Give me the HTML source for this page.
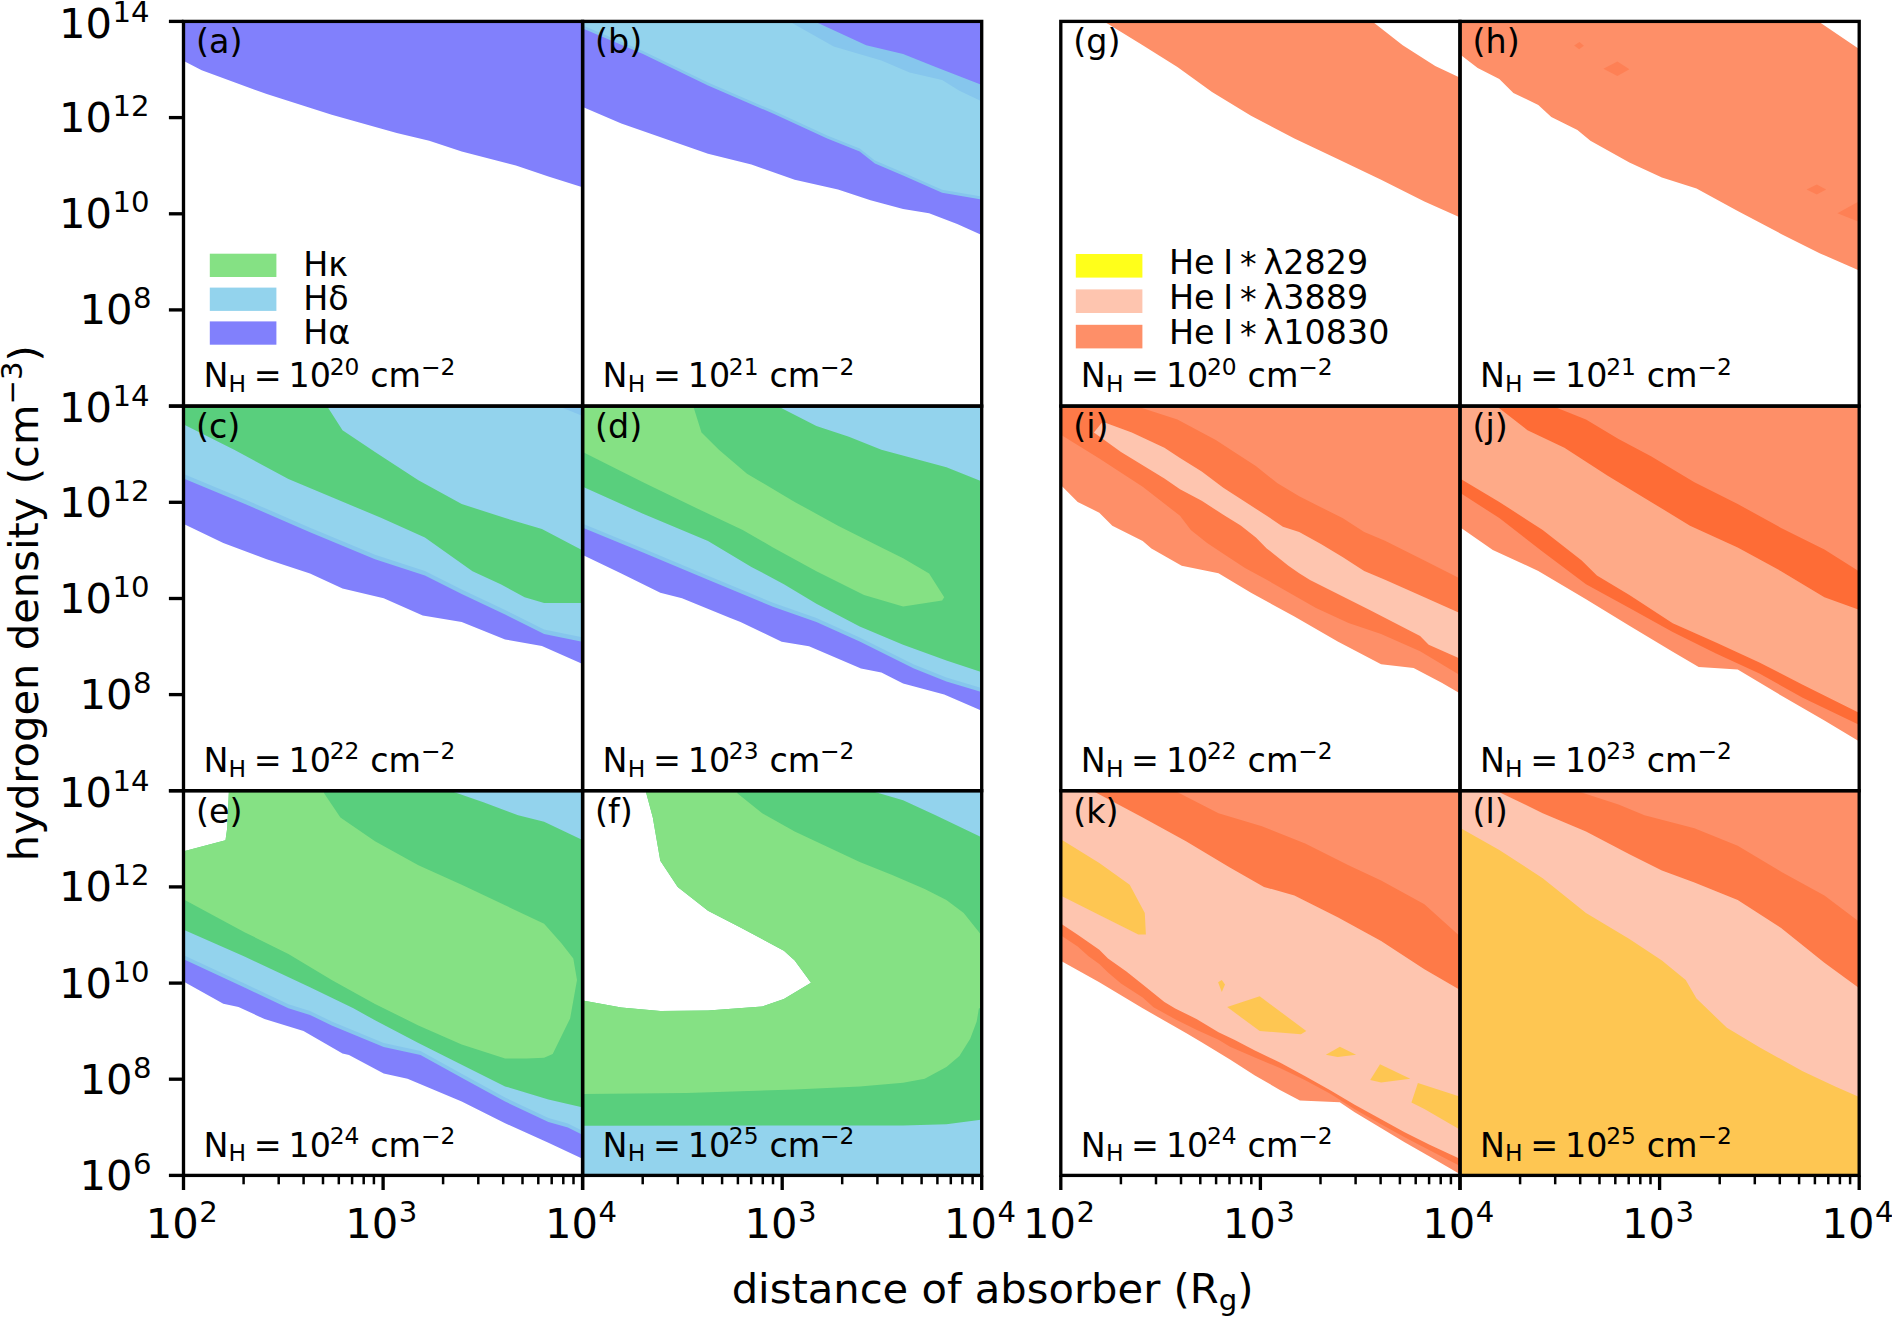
<!DOCTYPE html>
<html><head><meta charset="utf-8"><title>figure</title>
<style>html,body{margin:0;padding:0;background:#fff}svg{display:block}text{font-family:"DejaVu Sans","Liberation Sans",sans-serif;fill:#000}</style></head><body>
<svg width="1892" height="1317" viewBox="0 0 1892 1317">
<rect width="1892" height="1317" fill="#fff"/>
<defs>
<clipPath id="ca"><rect x="183.5" y="21.4" width="399.1" height="384.7"/></clipPath>
<clipPath id="cb"><rect x="582.6" y="21.4" width="399.1" height="384.7"/></clipPath>
<clipPath id="cc"><rect x="183.5" y="406.1" width="399.1" height="384.6"/></clipPath>
<clipPath id="cd"><rect x="582.6" y="406.1" width="399.1" height="384.6"/></clipPath>
<clipPath id="ce"><rect x="183.5" y="790.7" width="399.1" height="384.7"/></clipPath>
<clipPath id="cf"><rect x="582.6" y="790.7" width="399.1" height="384.7"/></clipPath>
<clipPath id="cg"><rect x="1060.8" y="21.4" width="399.2" height="384.7"/></clipPath>
<clipPath id="ch"><rect x="1460.0" y="21.4" width="399.2" height="384.7"/></clipPath>
<clipPath id="ci"><rect x="1060.8" y="406.1" width="399.2" height="384.6"/></clipPath>
<clipPath id="cj"><rect x="1460.0" y="406.1" width="399.2" height="384.6"/></clipPath>
<clipPath id="ck"><rect x="1060.8" y="790.7" width="399.2" height="384.7"/></clipPath>
<clipPath id="cl"><rect x="1460.0" y="790.7" width="399.2" height="384.7"/></clipPath>
</defs>
<g clip-path="url(#ca)">
<polygon fill="#8180fc" points="172.4,55.2 184.8,61.6 201.7,70.3 266.7,94.1 331.7,114.7 396.7,133.1 429.2,140.7 461.7,151.5 515.9,165.6 548.4,176.4 580.9,186.8 594.2,191.1 612.6,-8.6 153.5,-8.6"/>
</g>
<g clip-path="url(#cb)">
<polygon fill="#8180fc" points="569.9,101.6 582.8,107.1 621.3,123.4 708.0,153.7 751.4,164.5 794.7,179.7 838.0,189.4 870.5,200.3 903.1,209.0 929.1,213.3 957.2,224.1 980.0,234.3 992.8,240.0 1011.7,-8.6 552.6,-8.6"/>
<polygon fill="#86c6ed" points="552.6,-8.6 805.8,17.3 818.5,23.2 866.2,45.3 903.1,54.0 935.6,67.0 980.0,84.3 993.0,89.4 993.8,201.6 980.0,199.2 942.1,192.7 903.1,175.4 874.9,163.4 859.7,151.5 827.2,138.5 773.0,113.6 708.0,85.4 643.0,54.0 582.8,28.4 569.9,22.9"/>
<polygon fill="#93d3ed" points="552.6,-8.6 780.3,16.3 792.5,23.2 833.7,46.4 881.4,60.5 909.6,72.4 942.1,80.0 959.4,90.8 980.0,100.6 992.6,106.6 993.8,198.6 980.0,196.2 942.1,189.7 903.1,172.4 874.9,160.4 859.7,148.5 827.2,135.5 773.0,110.6 708.0,82.4 643.0,51.0 582.8,25.4 569.9,19.9"/>
</g>
<g clip-path="url(#cc)">
<polygon fill="#8180fc" points="172.2,518.6 184.8,524.6 223.3,543.0 266.7,559.3 310.0,573.4 342.5,588.5 383.7,598.3 422.7,615.6 461.7,622.1 505.1,639.5 541.9,646.0 580.9,663.3 593.7,669.0 612.6,376.1 153.5,376.1"/>
<polygon fill="#86c6ed" points="171.9,473.7 184.8,479.1 245.0,504.0 310.0,532.2 375.0,559.3 424.9,575.5 461.7,594.0 505.1,614.5 544.1,634.0 580.9,641.6 594.6,644.4 612.6,376.1 153.5,376.1"/>
<polygon fill="#93d3ed" points="171.9,469.2 184.8,474.6 245.0,499.5 310.0,527.7 375.0,554.8 424.9,571.0 461.7,589.5 505.1,610.0 544.1,629.5 580.9,637.1 594.6,639.9 612.6,376.1 153.5,376.1"/>
<polygon fill="#86c6ed" points="550.6,402.9 563.6,408.2 580.9,415.2 593.9,420.5 612.6,376.1 153.5,376.1"/>
<polygon fill="#59cf7d" points="153.5,376.1 320.9,396.4 328.4,408.2 342.5,430.3 375.0,452.0 418.4,480.2 461.7,504.0 505.1,518.1 541.9,528.9 580.9,549.5 593.3,556.0 594.9,603.1 580.9,603.1 544.1,603.1 524.6,597.2 500.7,584.2 472.5,571.2 424.9,537.6 381.5,518.1 353.4,506.2 288.4,479.1 234.2,449.8 184.8,424.9 172.3,418.6"/>
</g>
<g clip-path="url(#cd)">
<polygon fill="#8180fc" points="570.2,549.0 582.8,555.0 621.3,573.4 660.3,592.7 682.0,598.2 729.7,617.8 740.5,621.9 781.7,641.7 809.0,646.3 861.0,668.5 881.4,672.5 903.1,683.5 944.2,694.4 978.9,709.6 991.7,715.2 1011.7,376.1 552.6,376.1"/>
<polygon fill="#86c6ed" points="569.9,522.5 582.8,527.8 643.0,552.6 708.0,579.8 773.0,606.8 816.4,622.0 859.7,641.5 913.9,668.5 946.4,681.5 978.9,691.2 992.3,695.2 1011.7,376.1 552.6,376.1"/>
<polygon fill="#93d3ed" points="569.9,518.5 582.8,523.8 643.0,548.6 708.0,575.8 773.0,602.8 816.4,618.0 859.7,637.5 913.9,664.5 946.4,677.5 978.9,687.2 992.3,691.2 1011.7,376.1 552.6,376.1"/>
<polygon fill="#59cf7d" points="552.6,376.1 769.2,401.8 781.7,408.2 816.4,426.0 848.9,436.8 881.4,449.8 913.9,458.5 946.4,467.2 978.9,480.2 991.9,485.4 992.2,675.7 978.9,671.3 946.4,660.5 903.1,644.8 859.7,626.4 816.4,603.7 783.9,584.2 751.4,566.9 708.0,540.9 643.0,513.8 582.8,486.7 570.0,481.0"/>
<polygon fill="#85e184" points="560.0,380.0 690.0,380.0 693.9,408.2 701.5,432.5 718.9,449.8 747.0,473.7 794.7,501.9 838.0,525.7 881.4,547.4 903.1,558.2 929.1,573.4 944.2,597.2 942.1,600.4 903.1,606.5 864.0,595.0 816.4,571.2 773.0,547.4 742.7,530.0 697.2,508.4 643.0,482.3 582.8,452.0 560.0,440.5"/>
</g>
<g clip-path="url(#ce)">
<polygon fill="#8180fc" points="172.6,975.5 184.8,982.3 223.3,1003.8 238.5,1006.9 264.5,1019.1 303.5,1031.0 342.5,1053.5 349.0,1054.9 383.7,1073.4 407.5,1078.8 461.7,1101.5 505.1,1123.2 548.4,1142.7 580.9,1157.9 593.6,1163.8 612.6,760.7 153.5,760.7"/>
<polygon fill="#86c6ed" points="172.1,953.9 184.8,959.8 245.0,987.7 288.4,1008.2 310.0,1014.9 331.7,1025.5 383.7,1046.9 420.5,1054.9 461.7,1077.7 505.1,1101.5 548.4,1122.1 567.9,1127.5 580.9,1134.0 593.4,1140.3 612.6,760.7 153.5,760.7"/>
<polygon fill="#93d3ed" points="172.1,949.9 184.8,955.8 245.0,983.7 288.4,1004.2 310.0,1010.9 331.7,1021.5 383.7,1042.9 420.5,1050.9 461.7,1073.7 505.1,1097.5 548.4,1118.1 567.9,1123.5 580.9,1130.0 593.4,1136.3 612.6,760.7 153.5,760.7"/>
<polygon fill="#59cf7d" points="153.5,760.7 444.2,788.6 457.4,793.2 483.4,802.3 518.1,815.3 544.1,821.8 580.9,839.2 593.6,845.2 594.5,1110.2 580.9,1107.0 548.4,1099.4 505.1,1086.4 461.7,1064.7 418.4,1043.0 375.0,1020.3 353.4,1008.2 310.0,987.2 245.0,956.8 184.8,930.2 172.0,924.5"/>
<polygon fill="#fff" points="150.0,760.0 228.8,760.0 228.8,793.2 227.2,828.3 225.5,840.3 184.8,851.1 150.0,860.3"/>
<polygon fill="#85e184" points="228.8,770.0 324.1,770.0 324.1,793.2 340.4,817.5 375.0,841.3 418.4,865.2 461.7,884.7 505.1,905.3 544.1,923.7 561.4,943.2 573.3,958.4 577.0,980.0 570.1,1018.5 557.1,1045.0 552.7,1053.9 544.1,1057.8 526.7,1058.5 505.1,1058.5 461.7,1044.5 418.4,1025.5 375.0,1003.9 331.7,980.0 288.4,954.0 245.0,932.4 184.8,899.9 160.0,886.5 160.0,857.7 184.8,851.1 225.5,840.3 227.2,828.3 228.8,793.2"/>
</g>
<g clip-path="url(#cf)">
<polygon fill="#93d3ed" points="577.6,785.7 986.7,785.7 986.7,1180.4 577.6,1180.4"/>
<polygon fill="#59cf7d" points="552.6,760.7 865.8,789.3 879.2,793.2 903.1,800.2 935.6,815.3 978.9,835.9 991.5,841.9 992.8,1118.2 978.9,1120.0 946.4,1124.3 903.1,1125.4 794.7,1125.4 582.8,1125.8 568.8,1125.8"/>
<polygon fill="#fff" points="560.0,760.0 646.3,760.0 646.3,793.2 652.8,817.5 660.3,860.8 677.7,886.9 708.0,910.7 740.5,927.5 783.9,950.8 794.7,960.6 811.0,982.7 783.9,999.1 762.2,1006.6 708.0,1010.5 660.3,1010.9 621.3,1007.4 582.8,1000.5 560.0,996.4"/>
<polygon fill="#85e184" points="646.3,770.0 737.3,770.0 737.3,793.2 762.2,813.2 794.7,831.6 827.2,846.8 859.7,861.9 892.2,874.9 924.7,889.0 946.4,899.9 963.7,912.9 978.9,932.0 1000.0,960.0 1000.0,1000.0 978.9,1008.4 976.7,1021.4 970.2,1038.7 959.4,1056.0 946.4,1066.9 924.7,1078.8 903.1,1082.7 859.7,1086.4 794.7,1089.6 686.4,1092.9 582.8,1093.9 560.0,1094.0 560.0,996.4 582.8,1000.5 621.3,1007.4 660.3,1010.9 708.0,1010.5 762.2,1006.6 783.9,999.1 811.0,982.7 794.7,960.6 783.9,950.8 740.5,927.5 708.0,910.7 677.7,886.9 660.3,860.8 652.8,817.5 646.3,793.2"/>
</g>
<g clip-path="url(#cg)">
<polygon fill="#fe8f68" points="1363.6,14.5 1374.6,23.2 1402.7,45.3 1435.2,65.9 1458.0,76.8 1470.6,82.8 1470.8,222.2 1458.0,216.5 1424.4,201.4 1381.1,179.7 1337.7,159.1 1294.4,138.5 1251.0,115.8 1212.0,91.9 1177.4,67.0 1142.7,45.3 1106.9,23.2 1095.0,15.8"/>
</g>
<g clip-path="url(#ch)">
<polygon fill="#fe8f68" points="1430.0,-8.6 1809.5,15.3 1821.1,23.2 1856.9,47.5 1868.5,55.4 1869.7,275.2 1856.9,269.6 1820.1,253.4 1781.1,233.9 1737.7,211.1 1696.5,188.4 1661.9,177.5 1629.4,162.4 1590.4,140.7 1577.4,129.9 1551.3,116.9 1538.3,104.9 1513.4,93.0 1499.3,78.9 1477.7,68.1 1460.8,55.1 1449.7,46.6"/>
<polygon fill="#fe8055" points="1574.1,45.4 1579.5,42.1 1583.9,45.8 1579.1,49.2"/>
<polygon fill="#fe8055" points="1603.4,68.7 1617.4,61.6 1629.4,69.2 1617.4,76.1"/>
<polygon fill="#fe8055" points="1806.6,189.4 1816.8,184.5 1826.1,189.4 1816.8,194.4"/>
<polygon fill="#fe8055" points="1837.4,213.3 1870.0,195.1 1870.0,226.2"/>
</g>
<g clip-path="url(#ci)">
<polygon fill="#fe8f68" points="1052.6,476.8 1062.5,486.7 1077.7,501.9 1099.3,512.7 1112.3,525.7 1142.7,540.9 1151.4,548.4 1181.7,565.8 1218.5,573.3 1251.0,592.8 1294.4,616.6 1337.7,641.5 1381.1,664.2 1413.6,668.0 1441.7,682.8 1458.0,692.3 1470.1,699.3 1490.0,376.1 1030.8,376.1"/>
<polygon fill="#fe7a48" points="1030.8,376.1 1129.4,403.9 1142.7,408.2 1177.4,419.5 1215.8,440.0 1234.2,451.9 1255.8,466.0 1277.5,483.3 1299.2,496.3 1320.9,507.2 1342.5,518.0 1364.2,532.1 1385.0,540.8 1424.4,560.4 1458.0,577.5 1470.5,583.8 1470.0,681.2 1458.0,674.0 1420.1,651.2 1381.1,633.9 1348.5,623.0 1316.0,608.0 1266.7,579.8 1245.0,567.9 1223.3,553.8 1207.1,542.9 1190.8,529.9 1180.0,515.8 1142.7,486.7 1099.3,458.5 1062.5,435.8 1050.6,428.4"/>
<polygon fill="#fec5af" points="1102.6,421.7 1131.8,432.5 1164.4,447.7 1180.0,457.9 1201.7,471.4 1223.3,487.7 1245.0,501.8 1266.7,515.8 1282.9,526.7 1299.2,532.1 1320.9,544.0 1342.5,557.0 1364.2,571.1 1385.0,579.8 1424.4,597.2 1458.0,612.2 1470.8,617.9 1470.8,663.4 1458.0,657.7 1428.7,644.7 1420.1,636.0 1370.2,610.2 1326.9,588.5 1310.0,580.0 1299.2,573.3 1288.4,565.7 1277.5,557.0 1266.7,548.4 1255.9,537.5 1240.7,525.6 1223.3,514.8 1201.7,500.7 1180.0,489.3 1164.4,478.5 1121.0,452.0 1093.9,432.5"/>
</g>
<g clip-path="url(#cj)">
<polygon fill="#fe8f68" points="1449.3,519.8 1460.8,527.8 1492.8,549.9 1538.3,571.0 1586.0,599.2 1629.4,625.8 1672.7,651.8 1698.7,667.0 1737.7,669.6 1781.1,695.5 1824.4,720.5 1856.9,740.0 1868.9,747.2 1889.2,376.1 1430.0,376.1"/>
<polygon fill="#fe6c36" points="1430.0,376.1 1544.9,403.0 1557.9,408.2 1586.0,419.5 1618.5,439.0 1651.0,456.3 1694.4,482.3 1737.7,504.0 1781.1,527.9 1824.4,549.5 1856.9,570.0 1868.7,577.5 1869.5,729.8 1856.9,723.7 1802.7,697.7 1759.4,673.5 1716.0,653.4 1672.7,631.9 1629.4,608.0 1586.0,584.2 1542.7,551.7 1499.3,518.1 1460.8,493.2 1449.0,485.6"/>
<polygon fill="#feaa88" points="1430.0,376.1 1488.3,399.6 1499.3,408.2 1527.5,430.3 1564.4,447.7 1607.7,475.8 1651.0,501.9 1690.0,525.7 1737.7,547.4 1781.1,571.2 1824.4,597.2 1856.9,609.0 1870.1,613.8 1869.4,718.1 1856.9,711.8 1802.7,684.7 1759.4,662.6 1716.0,642.5 1672.7,623.2 1629.4,595.0 1596.9,575.5 1581.7,560.4 1542.7,530.0 1499.3,501.9 1460.8,479.1 1448.8,472.0"/>
</g>
<g clip-path="url(#ck)">
<polygon fill="#fe8f68" points="1050.3,954.9 1062.5,961.7 1099.3,982.3 1142.7,1008.3 1186.0,1033.0 1201.2,1042.1 1230.0,1059.5 1254.9,1075.5 1279.9,1089.9 1299.9,1100.5 1339.8,1102.3 1354.7,1112.3 1379.7,1127.3 1404.6,1142.2 1429.6,1156.6 1457.6,1172.8 1469.7,1179.8 1490.0,760.7 1030.8,760.7"/>
<polygon fill="#fe7a48" points="1030.8,760.7 1167.0,786.8 1179.5,793.2 1218.5,813.2 1261.9,826.2 1305.2,843.5 1348.5,865.2 1381.1,880.4 1424.4,904.2 1458.0,934.6 1468.4,944.0 1470.1,1171.1 1457.6,1164.7 1429.6,1150.3 1404.6,1137.3 1379.7,1123.5 1354.7,1109.2 1329.8,1093.6 1304.8,1079.9 1279.9,1068.0 1254.9,1057.4 1230.0,1046.8 1218.5,1039.8 1196.9,1030.0 1175.2,1019.2 1153.5,1007.3 1142.7,997.5 1121.0,983.4 1108.0,972.6 1099.3,963.9 1088.5,956.3 1077.7,946.6 1063.0,936.8 1051.4,929.0"/>
<polygon fill="#fec5af" points="1030.8,760.7 1084.9,786.6 1097.2,793.2 1142.7,817.5 1186.0,841.3 1229.4,867.3 1264.0,886.9 1294.4,895.5 1337.7,917.2 1381.1,941.0 1424.4,969.2 1458.0,988.7 1470.1,995.7 1470.3,1163.7 1457.6,1157.8 1429.6,1144.7 1404.6,1132.3 1379.7,1118.5 1354.7,1104.8 1329.8,1089.9 1304.8,1076.1 1279.9,1062.4 1254.9,1050.6 1234.8,1040.0 1218.5,1032.2 1196.9,1019.2 1175.2,1008.4 1164.4,1001.9 1142.7,984.5 1126.4,971.5 1108.0,958.5 1099.3,949.8 1077.7,934.7 1063.0,924.9 1051.4,917.1"/>
<polygon fill="#fec652" points="1040.0,826.4 1062.5,840.3 1099.3,863.0 1129.7,884.7 1144.8,912.9 1145.9,934.5 1138.3,934.5 1099.3,915.0 1062.5,896.6 1040.0,885.4"/>
<polygon fill="#fec652" points="1218.1,982.2 1221.8,980.0 1225.0,984.4 1221.8,992.0"/>
<polygon fill="#fec652" points="1227.2,1007.1 1259.7,996.3 1306.3,1031.0 1300.9,1034.2 1259.7,1031.0"/>
<polygon fill="#fec652" points="1325.8,1054.8 1339.9,1046.8 1356.1,1054.8 1337.7,1057.0"/>
<polygon fill="#fec652" points="1370.2,1079.9 1380.0,1064.3 1410.3,1078.8 1381.1,1082.5"/>
<polygon fill="#fec652" points="1411.4,1102.6 1417.9,1083.1 1458.0,1096.1 1480.0,1103.2 1480.0,1141.4 1458.0,1128.6 1424.4,1109.1"/>
</g>
<g clip-path="url(#cl)">
<polygon fill="#fe8f68" points="1455.0,785.7 1864.2,785.7 1864.2,1180.4 1455.0,1180.4"/>
<polygon fill="#fe7a48" points="1430.0,760.7 1570.6,788.9 1583.9,793.2 1618.5,804.5 1644.5,815.3 1694.4,828.3 1737.7,845.7 1781.1,871.7 1824.4,895.5 1856.9,920.0 1868.1,928.4 1889.2,1205.4 1430.0,1205.4"/>
<polygon fill="#fec5af" points="1430.0,760.7 1488.9,787.1 1501.5,793.2 1542.7,813.2 1586.0,831.6 1629.4,854.3 1661.9,870.6 1694.4,882.5 1737.7,899.9 1781.1,928.0 1824.4,962.7 1856.9,986.6 1868.2,994.9 1889.2,1205.4 1430.0,1205.4"/>
<polygon fill="#fec652" points="1430.0,760.7 1448.6,821.4 1460.8,828.3 1499.3,850.0 1542.7,878.2 1586.0,912.9 1629.4,939.0 1661.9,960.6 1685.7,980.1 1696.5,998.6 1726.9,1027.8 1759.4,1047.3 1802.7,1071.2 1835.2,1086.4 1856.9,1096.1 1869.7,1101.8 1889.2,1205.4 1430.0,1205.4"/>
</g>
<g fill="none" stroke="#000" stroke-width="3.33" stroke-linecap="square">
<rect x="183.5" y="21.4" width="399.1" height="384.7"/>
<rect x="582.6" y="21.4" width="399.1" height="384.7"/>
<rect x="183.5" y="406.1" width="399.1" height="384.6"/>
<rect x="582.6" y="406.1" width="399.1" height="384.6"/>
<rect x="183.5" y="790.7" width="399.1" height="384.7"/>
<rect x="582.6" y="790.7" width="399.1" height="384.7"/>
<rect x="1060.8" y="21.4" width="399.2" height="384.7"/>
<rect x="1460.0" y="21.4" width="399.2" height="384.7"/>
<rect x="1060.8" y="406.1" width="399.2" height="384.6"/>
<rect x="1460.0" y="406.1" width="399.2" height="384.6"/>
<rect x="1060.8" y="790.7" width="399.2" height="384.7"/>
<rect x="1460.0" y="790.7" width="399.2" height="384.7"/>
</g>
<g stroke="#000" stroke-width="3.33">
<line x1="168.9" y1="21.4" x2="183.5" y2="21.4"/>
<line x1="168.9" y1="117.6" x2="183.5" y2="117.6"/>
<line x1="168.9" y1="213.8" x2="183.5" y2="213.8"/>
<line x1="168.9" y1="309.9" x2="183.5" y2="309.9"/>
<line x1="168.9" y1="406.1" x2="183.5" y2="406.1"/>
<line x1="168.9" y1="406.1" x2="183.5" y2="406.1"/>
<line x1="168.9" y1="502.3" x2="183.5" y2="502.3"/>
<line x1="168.9" y1="598.5" x2="183.5" y2="598.5"/>
<line x1="168.9" y1="694.6" x2="183.5" y2="694.6"/>
<line x1="168.9" y1="790.8" x2="183.5" y2="790.8"/>
<line x1="168.9" y1="790.7" x2="183.5" y2="790.7"/>
<line x1="168.9" y1="886.9" x2="183.5" y2="886.9"/>
<line x1="168.9" y1="983.1" x2="183.5" y2="983.1"/>
<line x1="168.9" y1="1079.2" x2="183.5" y2="1079.2"/>
<line x1="168.9" y1="1175.4" x2="183.5" y2="1175.4"/>
<line x1="183.5" y1="1175.4" x2="183.5" y2="1190.0"/>
<line x1="383.1" y1="1175.4" x2="383.1" y2="1190.0"/>
<line x1="582.6" y1="1175.4" x2="582.6" y2="1190.0"/>
<line x1="582.6" y1="1175.4" x2="582.6" y2="1190.0"/>
<line x1="782.2" y1="1175.4" x2="782.2" y2="1190.0"/>
<line x1="981.7" y1="1175.4" x2="981.7" y2="1190.0"/>
<line x1="1060.8" y1="1175.4" x2="1060.8" y2="1190.0"/>
<line x1="1260.4" y1="1175.4" x2="1260.4" y2="1190.0"/>
<line x1="1460.0" y1="1175.4" x2="1460.0" y2="1190.0"/>
<line x1="1460.0" y1="1175.4" x2="1460.0" y2="1190.0"/>
<line x1="1659.6" y1="1175.4" x2="1659.6" y2="1190.0"/>
<line x1="1859.2" y1="1175.4" x2="1859.2" y2="1190.0"/>
</g>
<g stroke="#000" stroke-width="2.5">
<line x1="243.6" y1="1175.4" x2="243.6" y2="1184.3"/>
<line x1="278.7" y1="1175.4" x2="278.7" y2="1184.3"/>
<line x1="303.6" y1="1175.4" x2="303.6" y2="1184.3"/>
<line x1="323.0" y1="1175.4" x2="323.0" y2="1184.3"/>
<line x1="338.8" y1="1175.4" x2="338.8" y2="1184.3"/>
<line x1="352.1" y1="1175.4" x2="352.1" y2="1184.3"/>
<line x1="363.7" y1="1175.4" x2="363.7" y2="1184.3"/>
<line x1="373.9" y1="1175.4" x2="373.9" y2="1184.3"/>
<line x1="443.1" y1="1175.4" x2="443.1" y2="1184.3"/>
<line x1="478.3" y1="1175.4" x2="478.3" y2="1184.3"/>
<line x1="503.2" y1="1175.4" x2="503.2" y2="1184.3"/>
<line x1="522.5" y1="1175.4" x2="522.5" y2="1184.3"/>
<line x1="538.3" y1="1175.4" x2="538.3" y2="1184.3"/>
<line x1="551.7" y1="1175.4" x2="551.7" y2="1184.3"/>
<line x1="563.3" y1="1175.4" x2="563.3" y2="1184.3"/>
<line x1="573.5" y1="1175.4" x2="573.5" y2="1184.3"/>
<line x1="642.7" y1="1175.4" x2="642.7" y2="1184.3"/>
<line x1="677.8" y1="1175.4" x2="677.8" y2="1184.3"/>
<line x1="702.7" y1="1175.4" x2="702.7" y2="1184.3"/>
<line x1="722.1" y1="1175.4" x2="722.1" y2="1184.3"/>
<line x1="737.9" y1="1175.4" x2="737.9" y2="1184.3"/>
<line x1="751.2" y1="1175.4" x2="751.2" y2="1184.3"/>
<line x1="762.8" y1="1175.4" x2="762.8" y2="1184.3"/>
<line x1="773.0" y1="1175.4" x2="773.0" y2="1184.3"/>
<line x1="842.2" y1="1175.4" x2="842.2" y2="1184.3"/>
<line x1="877.4" y1="1175.4" x2="877.4" y2="1184.3"/>
<line x1="902.3" y1="1175.4" x2="902.3" y2="1184.3"/>
<line x1="921.6" y1="1175.4" x2="921.6" y2="1184.3"/>
<line x1="937.4" y1="1175.4" x2="937.4" y2="1184.3"/>
<line x1="950.8" y1="1175.4" x2="950.8" y2="1184.3"/>
<line x1="962.4" y1="1175.4" x2="962.4" y2="1184.3"/>
<line x1="972.6" y1="1175.4" x2="972.6" y2="1184.3"/>
<line x1="1120.9" y1="1175.4" x2="1120.9" y2="1184.3"/>
<line x1="1156.0" y1="1175.4" x2="1156.0" y2="1184.3"/>
<line x1="1181.0" y1="1175.4" x2="1181.0" y2="1184.3"/>
<line x1="1200.3" y1="1175.4" x2="1200.3" y2="1184.3"/>
<line x1="1216.1" y1="1175.4" x2="1216.1" y2="1184.3"/>
<line x1="1229.5" y1="1175.4" x2="1229.5" y2="1184.3"/>
<line x1="1241.1" y1="1175.4" x2="1241.1" y2="1184.3"/>
<line x1="1251.3" y1="1175.4" x2="1251.3" y2="1184.3"/>
<line x1="1320.5" y1="1175.4" x2="1320.5" y2="1184.3"/>
<line x1="1355.6" y1="1175.4" x2="1355.6" y2="1184.3"/>
<line x1="1380.6" y1="1175.4" x2="1380.6" y2="1184.3"/>
<line x1="1399.9" y1="1175.4" x2="1399.9" y2="1184.3"/>
<line x1="1415.7" y1="1175.4" x2="1415.7" y2="1184.3"/>
<line x1="1429.1" y1="1175.4" x2="1429.1" y2="1184.3"/>
<line x1="1440.7" y1="1175.4" x2="1440.7" y2="1184.3"/>
<line x1="1450.9" y1="1175.4" x2="1450.9" y2="1184.3"/>
<line x1="1520.1" y1="1175.4" x2="1520.1" y2="1184.3"/>
<line x1="1555.2" y1="1175.4" x2="1555.2" y2="1184.3"/>
<line x1="1580.2" y1="1175.4" x2="1580.2" y2="1184.3"/>
<line x1="1599.5" y1="1175.4" x2="1599.5" y2="1184.3"/>
<line x1="1615.3" y1="1175.4" x2="1615.3" y2="1184.3"/>
<line x1="1628.7" y1="1175.4" x2="1628.7" y2="1184.3"/>
<line x1="1640.3" y1="1175.4" x2="1640.3" y2="1184.3"/>
<line x1="1650.5" y1="1175.4" x2="1650.5" y2="1184.3"/>
<line x1="1719.7" y1="1175.4" x2="1719.7" y2="1184.3"/>
<line x1="1754.8" y1="1175.4" x2="1754.8" y2="1184.3"/>
<line x1="1779.8" y1="1175.4" x2="1779.8" y2="1184.3"/>
<line x1="1799.1" y1="1175.4" x2="1799.1" y2="1184.3"/>
<line x1="1814.9" y1="1175.4" x2="1814.9" y2="1184.3"/>
<line x1="1828.3" y1="1175.4" x2="1828.3" y2="1184.3"/>
<line x1="1839.9" y1="1175.4" x2="1839.9" y2="1184.3"/>
<line x1="1850.1" y1="1175.4" x2="1850.1" y2="1184.3"/>
</g>
<text x="59.0" y="37.6" font-size="41.67">10</text><text x="112.5" y="21.5" font-size="29.17">14</text>
<text x="59.0" y="132.1" font-size="41.67">10</text><text x="112.5" y="116.0" font-size="29.17">12</text>
<text x="59.0" y="228.3" font-size="41.67">10</text><text x="112.5" y="212.2" font-size="29.17">10</text>
<text x="79.5" y="324.4" font-size="41.67">10</text><text x="133.0" y="308.3" font-size="29.17">8</text>
<text x="59.0" y="422.3" font-size="41.67">10</text><text x="112.5" y="406.2" font-size="29.17">14</text>
<text x="59.0" y="516.8" font-size="41.67">10</text><text x="112.5" y="500.7" font-size="29.17">12</text>
<text x="59.0" y="613.0" font-size="41.67">10</text><text x="112.5" y="596.9" font-size="29.17">10</text>
<text x="79.5" y="709.1" font-size="41.67">10</text><text x="133.0" y="693.0" font-size="29.17">8</text>
<text x="59.0" y="806.9" font-size="41.67">10</text><text x="112.5" y="790.8" font-size="29.17">14</text>
<text x="59.0" y="901.4" font-size="41.67">10</text><text x="112.5" y="885.3" font-size="29.17">12</text>
<text x="59.0" y="997.6" font-size="41.67">10</text><text x="112.5" y="981.5" font-size="29.17">10</text>
<text x="79.5" y="1093.7" font-size="41.67">10</text><text x="133.0" y="1077.6" font-size="29.17">8</text>
<text x="79.5" y="1189.9" font-size="41.67">10</text><text x="133.0" y="1173.8" font-size="29.17">6</text>
<text x="145.8" y="1237.6" font-size="41.67">10</text><text x="199.3" y="1221.5" font-size="29.17">2</text>
<text x="345.3" y="1237.6" font-size="41.67">10</text><text x="398.8" y="1221.5" font-size="29.17">3</text>
<text x="544.9" y="1237.6" font-size="41.67">10</text><text x="598.4" y="1221.5" font-size="29.17">4</text>
<text x="744.4" y="1237.6" font-size="41.67">10</text><text x="797.9" y="1221.5" font-size="29.17">3</text>
<text x="944.0" y="1237.6" font-size="41.67">10</text><text x="997.5" y="1221.5" font-size="29.17">4</text>
<text x="1023.1" y="1237.6" font-size="41.67">10</text><text x="1076.6" y="1221.5" font-size="29.17">2</text>
<text x="1222.7" y="1237.6" font-size="41.67">10</text><text x="1276.2" y="1221.5" font-size="29.17">3</text>
<text x="1422.3" y="1237.6" font-size="41.67">10</text><text x="1475.8" y="1221.5" font-size="29.17">4</text>
<text x="1621.9" y="1237.6" font-size="41.67">10</text><text x="1675.4" y="1221.5" font-size="29.17">3</text>
<text x="1821.5" y="1237.6" font-size="41.67">10</text><text x="1875.0" y="1221.5" font-size="29.17">4</text>
<text x="992.6" y="1303" font-size="41.67" text-anchor="middle">distance of absorber (R<tspan font-size="29.17" dy="6.5">g</tspan><tspan dy="-6.5">)</tspan></text>
<text transform="translate(37.7,603.2) rotate(-90)" font-size="41.67" text-anchor="middle">hydrogen density (cm<tspan font-size="29.17" dy="-15.9">−3</tspan><tspan dy="15.9">)</tspan></text>
<text x="196.0" y="53.4" font-size="33.33">(a)</text>
<text x="595.1" y="53.4" font-size="33.33">(b)</text>
<text x="196.0" y="438.1" font-size="33.33">(c)</text>
<text x="595.1" y="438.1" font-size="33.33">(d)</text>
<text x="196.0" y="822.7" font-size="33.33">(e)</text>
<text x="595.1" y="822.7" font-size="33.33">(f)</text>
<text x="1073.3" y="53.4" font-size="33.33">(g)</text>
<text x="1472.5" y="53.4" font-size="33.33">(h)</text>
<text x="1073.3" y="438.1" font-size="33.33">(i)</text>
<text x="1472.5" y="438.1" font-size="33.33">(j)</text>
<text x="1073.3" y="822.7" font-size="33.33">(k)</text>
<text x="1472.5" y="822.7" font-size="33.33">(l)</text>
<g font-size="33.33"><text x="203.4" y="387.2">N</text><text x="228.6" y="392.0" font-size="23.33">H</text><text x="253.8" y="387.2">=</text><text x="288.6" y="387.2">10</text><text x="329.7" y="374.5" font-size="23.33">20</text><text x="370.3" y="387.2">cm</text><text x="420.9" y="374.5" font-size="23.33">−2</text></g>
<g font-size="33.33"><text x="602.5" y="387.2">N</text><text x="627.7" y="392.0" font-size="23.33">H</text><text x="652.9" y="387.2">=</text><text x="687.7" y="387.2">10</text><text x="728.8" y="374.5" font-size="23.33">21</text><text x="769.4" y="387.2">cm</text><text x="820.0" y="374.5" font-size="23.33">−2</text></g>
<g font-size="33.33"><text x="203.4" y="771.8">N</text><text x="228.6" y="776.6" font-size="23.33">H</text><text x="253.8" y="771.8">=</text><text x="288.6" y="771.8">10</text><text x="329.7" y="759.1" font-size="23.33">22</text><text x="370.3" y="771.8">cm</text><text x="420.9" y="759.1" font-size="23.33">−2</text></g>
<g font-size="33.33"><text x="602.5" y="771.8">N</text><text x="627.7" y="776.6" font-size="23.33">H</text><text x="652.9" y="771.8">=</text><text x="687.7" y="771.8">10</text><text x="728.8" y="759.1" font-size="23.33">23</text><text x="769.4" y="771.8">cm</text><text x="820.0" y="759.1" font-size="23.33">−2</text></g>
<g font-size="33.33"><text x="203.4" y="1156.5">N</text><text x="228.6" y="1161.3" font-size="23.33">H</text><text x="253.8" y="1156.5">=</text><text x="288.6" y="1156.5">10</text><text x="329.7" y="1143.8" font-size="23.33">24</text><text x="370.3" y="1156.5">cm</text><text x="420.9" y="1143.8" font-size="23.33">−2</text></g>
<g font-size="33.33"><text x="602.5" y="1156.5">N</text><text x="627.7" y="1161.3" font-size="23.33">H</text><text x="652.9" y="1156.5">=</text><text x="687.7" y="1156.5">10</text><text x="728.8" y="1143.8" font-size="23.33">25</text><text x="769.4" y="1156.5">cm</text><text x="820.0" y="1143.8" font-size="23.33">−2</text></g>
<g font-size="33.33"><text x="1080.7" y="387.2">N</text><text x="1105.9" y="392.0" font-size="23.33">H</text><text x="1131.1" y="387.2">=</text><text x="1165.9" y="387.2">10</text><text x="1207.0" y="374.5" font-size="23.33">20</text><text x="1247.6" y="387.2">cm</text><text x="1298.2" y="374.5" font-size="23.33">−2</text></g>
<g font-size="33.33"><text x="1479.9" y="387.2">N</text><text x="1505.1" y="392.0" font-size="23.33">H</text><text x="1530.3" y="387.2">=</text><text x="1565.1" y="387.2">10</text><text x="1606.2" y="374.5" font-size="23.33">21</text><text x="1646.8" y="387.2">cm</text><text x="1697.4" y="374.5" font-size="23.33">−2</text></g>
<g font-size="33.33"><text x="1080.7" y="771.8">N</text><text x="1105.9" y="776.6" font-size="23.33">H</text><text x="1131.1" y="771.8">=</text><text x="1165.9" y="771.8">10</text><text x="1207.0" y="759.1" font-size="23.33">22</text><text x="1247.6" y="771.8">cm</text><text x="1298.2" y="759.1" font-size="23.33">−2</text></g>
<g font-size="33.33"><text x="1479.9" y="771.8">N</text><text x="1505.1" y="776.6" font-size="23.33">H</text><text x="1530.3" y="771.8">=</text><text x="1565.1" y="771.8">10</text><text x="1606.2" y="759.1" font-size="23.33">23</text><text x="1646.8" y="771.8">cm</text><text x="1697.4" y="759.1" font-size="23.33">−2</text></g>
<g font-size="33.33"><text x="1080.7" y="1156.5">N</text><text x="1105.9" y="1161.3" font-size="23.33">H</text><text x="1131.1" y="1156.5">=</text><text x="1165.9" y="1156.5">10</text><text x="1207.0" y="1143.8" font-size="23.33">24</text><text x="1247.6" y="1156.5">cm</text><text x="1298.2" y="1143.8" font-size="23.33">−2</text></g>
<g font-size="33.33"><text x="1479.9" y="1156.5">N</text><text x="1505.1" y="1161.3" font-size="23.33">H</text><text x="1530.3" y="1156.5">=</text><text x="1565.1" y="1156.5">10</text><text x="1606.2" y="1143.8" font-size="23.33">25</text><text x="1646.8" y="1156.5">cm</text><text x="1697.4" y="1143.8" font-size="23.33">−2</text></g>
<rect x="209.8" y="253.7" width="66.6" height="23.3" fill="#85e184"/>
<text x="303.2" y="275.9" font-size="33.33">Hκ</text>
<rect x="209.8" y="287.6" width="66.6" height="23.3" fill="#93d3ed"/>
<text x="303.2" y="309.9" font-size="33.33">Hδ</text>
<rect x="209.8" y="321.4" width="66.6" height="23.3" fill="#8180fc"/>
<text x="303.2" y="343.9" font-size="33.33">Hα</text>
<rect x="1075.8" y="254.0" width="66.6" height="23.6" fill="#ffff1a"/>
<g font-size="33.33"><text x="1169.0" y="273.6">He</text><text x="1223.2" y="273.6">I</text><text x="1240.0" y="275.9">*</text><text x="1263.6" y="273.6">λ2829</text></g>
<rect x="1075.8" y="289.4" width="66.6" height="23.6" fill="#fec5af"/>
<g font-size="33.33"><text x="1169.0" y="308.6">He</text><text x="1223.2" y="308.6">I</text><text x="1240.0" y="310.9">*</text><text x="1263.6" y="308.6">λ3889</text></g>
<rect x="1075.8" y="324.8" width="66.6" height="23.6" fill="#fe8f68"/>
<g font-size="33.33"><text x="1169.0" y="343.5">He</text><text x="1223.2" y="343.5">I</text><text x="1240.0" y="345.8">*</text><text x="1263.6" y="343.5">λ10830</text></g>
</svg></body></html>
